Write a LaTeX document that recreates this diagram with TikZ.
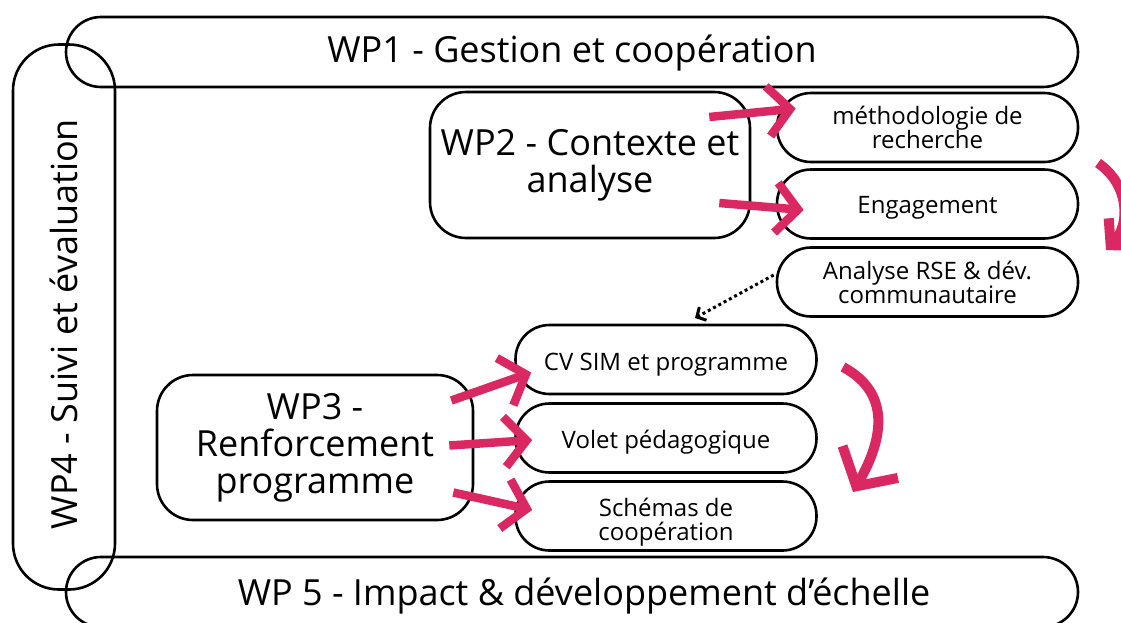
\documentclass[tikz,border=0pt]{standalone}
\usepackage{fontspec}
\setmainfont{Open Sans}
\usetikzlibrary{arrows.meta,calc}
\definecolor{wppink}{RGB}{218,40,98}
\newcommand{\padtop}[1]{\rule{0pt}{#1}}
\tikzset{
  band/.style={draw, line width=2.6pt, rounded corners=35pt, minimum width=1012pt, minimum height=70pt, inner sep=0pt, font=\fontsize{36}{37}\selectfont},
  wpbox/.style={draw, line width=2.6pt, rounded corners=36pt, align=center, inner sep=0pt, font=\fontsize{36}{37}\selectfont},
  pill/.style={draw, line width=2.6pt, rounded corners=34pt, minimum width=301pt, minimum height=69pt, align=center, inner sep=0pt, font=\fontsize{24}{24}\selectfont},
  pinkarrow/.style={wppink, line width=8.5pt, -{Straight Barb[length=22pt,width=50pt]}},
  bigcurve/.style={wppink, line width=10pt, -{Straight Barb[length=28pt,width=64pt]}},
}
\begin{document}
\begin{tikzpicture}[x=1pt, y=-1pt]
      \useasboundingbox (0,0) rectangle (1121,622);
      \clip (0,0) rectangle (1121,622);
      \draw
        (572,52) node[band] (wp1){\padtop{30pt}WP1 - Gestion et coopération}
        (572,592) node[band] (wp5){\padtop{36pt}\hspace*{24pt}WP 5 - Impact \& développement d’échelle}
        (64,317) node[band, rotate=90, minimum width=545pt, minimum height=102pt, rounded corners=46pt] (wp4){WP4 - Suivi et évaluation\hspace*{14pt}}
        (590,165) node[wpbox, minimum width=320pt, minimum height=146pt] (wp2){WP2 - Contexte et\\analyse}
        (315,447.5) node[wpbox, minimum width=316pt, minimum height=145pt] (wp3){WP3 -\\Renforcement\\programme}
        (927.5,127.5) node[pill] (meth){méthodologie de\\recherche}
        (927.5,204) node[pill] (eng){\padtop{25pt}Engagement}
        (927.5,282) node[pill] (rse){Analyse RSE \& dév.\\communautaire}
        (666,359.5) node[pill] (cvsim){\padtop{27pt}CV SIM et programme}
        (666,438) node[pill] (volet){\padtop{26pt}Volet pédagogique}
        (666,516) node[pill] (schemas){\padtop{31pt}Schémas de\\coopération};
      \coordinate (drop) at (695,318);
      \coordinate (topstart) at (1098,163);
      \coordinate (topend) at (1106,250);
      \coordinate (lowstart) at (843,367);
      \coordinate (lowend) at (853,492);
      \begin{scope}[pinkarrow]
        \draw ($(wp2.east)+(-42,-48)$) -- ($(meth.west)+(20,-19)$);
        \draw ($(wp2.east)+(-32,38)$) -- ($(eng.west)+(28,6)$);
        \draw ($(wp3.east)+(-23,-47)$) -- ($(cvsim.west)+(17,13)$);
        \draw ($(wp3.east)+(-25,-2)$) -- ($(volet.west)+(18,2)$);
        \draw ($(wp3.east)+(-21,45)$) -- ($(schemas.west)+(18,-6)$);
      \end{scope}
      \draw[bigcurve] (lowstart) .. controls (895,395) and (880,445) .. (lowend);
      \draw[bigcurve, -{Straight Barb[length=18pt,width=40pt]}] (topstart) .. controls (1130,185) and (1130,225) .. (topend);
      \draw[line width=3pt, dash pattern=on 3pt off 3pt, -{Straight Barb[length=7pt,width=15pt]}] ($(rse.west)+(-2,-7)$) -- (drop);
    \end{tikzpicture}
\end{document}
